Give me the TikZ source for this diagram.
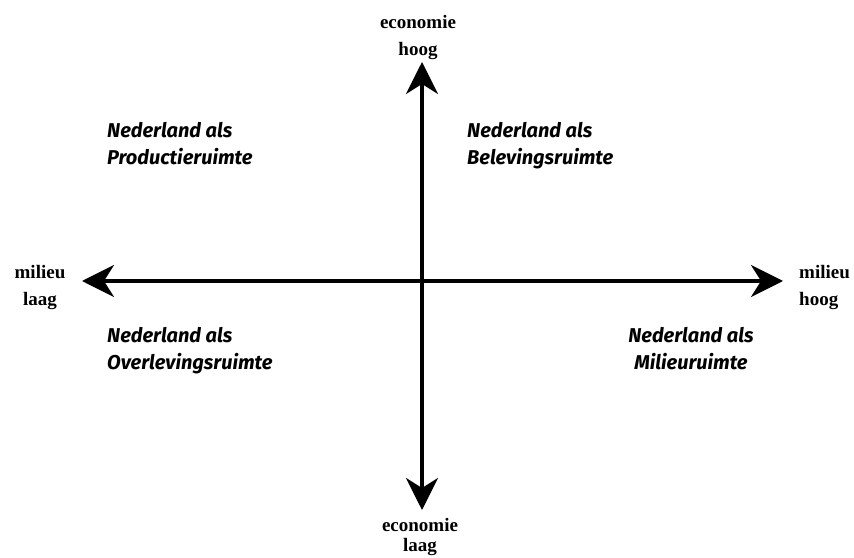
\documentclass[tikz,border=0pt]{standalone}
\usepackage{fontspec}
\setmainfont{Liberation Serif}
\newfontfamily\quadfont{Fira Sans}
\usetikzlibrary{arrows.meta}

\begin{document}
\begin{tikzpicture}[x=1pt, y=1pt,
  axis/.style={line width=3.5pt, {Stealth[length=32pt, width=32pt, inset=10pt]}-{Stealth[length=32pt, width=32pt, inset=10pt]}},
  axislabel/.style={font=\fontsize{19}{27}\selectfont\bfseries, inner sep=0pt, align=center},
  quadlabel/.style={font=\quadfont\fontsize{20}{27}\selectfont\bfseries\itshape, inner sep=0pt}]
  \useasboundingbox (0,0) rectangle (854,557);
  % Axis end points
  \coordinate (west) at (82,276);
  \coordinate (east) at (783,276);
  \coordinate (north) at (422,495);
  \coordinate (south) at (422,47);
  % Axes
  \draw[axis] (west) -- (east);
  \draw[axis] (south) -- (north);
  % Axis labels
  \node[axislabel, anchor=north] (ecohigh) at (418,542) {economie\\hoog};
  \node[axislabel, anchor=north, font=\fontsize{19}{20}\selectfont\bfseries] (ecolow) at (420,39) {economie\\laag};
  \node[axislabel, anchor=north] (envlow) at (40,292) {milieu\\laag};
  \node[axislabel, anchor=north west, align=left] (envhigh) at (799,292) {milieu\\hoog};
  % Quadrants
  \node[quadlabel, anchor=north west, align=left] (production) at (107,435) {Nederland als\\Productieruimte};
  \node[quadlabel, anchor=north west, align=left] (experience) at (467,435) {Nederland als\\Belevingsruimte};
  \node[quadlabel, anchor=north west, align=left] (survival) at (107,230) {Nederland als\\Overlevingsruimte};
  \node[quadlabel, anchor=north, align=center] (environment) at (691,230) {Nederland als\\Milieuruimte};
\end{tikzpicture}
\end{document}
